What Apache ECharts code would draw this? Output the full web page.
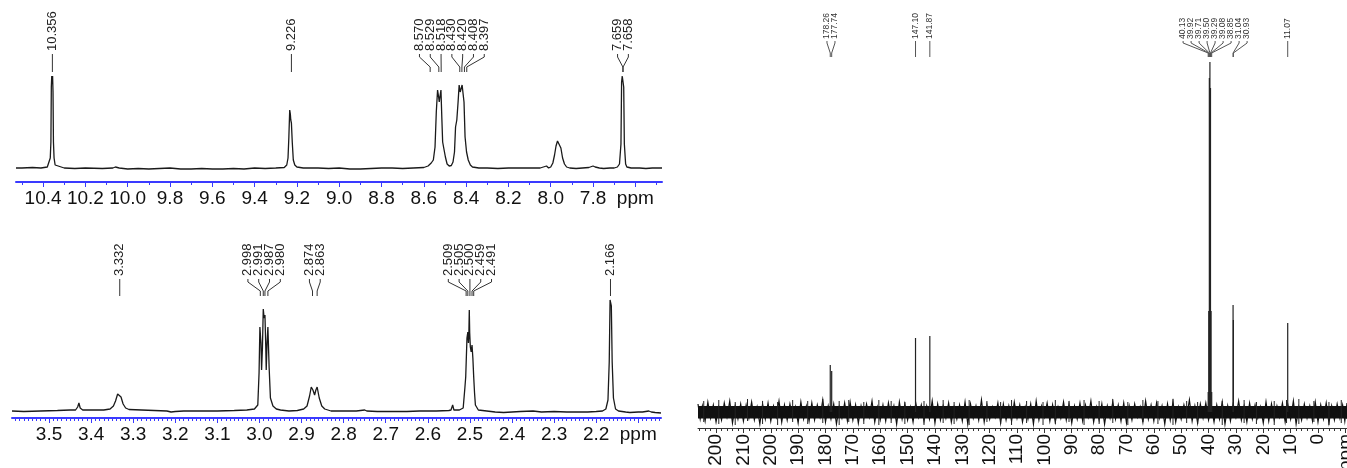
<!DOCTYPE html>
<html><head><meta charset="utf-8">
<script src="https://cdn.jsdelivr.net/npm/echarts@6/dist/echarts.min.js"></script>
<style>html,body{margin:0;padding:0;background:#fff}#c{width:1347px;height:468px}</style>
</head><body><div id="c"></div>
<script>
// ===================== DATA =====================
// 1H spectrum, aromatic region (top-left): [ppm, intensity]
const h1TopTrace = [[10.528,14],[10.50,14],[10.45,14.5],[10.41,14],[10.38,15],[10.372,17],[10.366,24],[10.363,40],[10.361,95],[10.359,106],[10.357,100],[10.355,106],[10.353,90],[10.351,40],[10.348,24],[10.343,17],[10.335,15],[10.30,14],[10.25,13.5],[10.20,14],[10.12,13.5],[10.07,14],[10.058,15],[10.054,17],[10.05,15],[10.04,14],[10.0,13],[9.95,13.5],[9.90,13],[9.85,13.5],[9.80,14],[9.75,13],[9.70,13],[9.65,13.5],[9.60,13],[9.55,13],[9.50,13.5],[9.45,13],[9.40,14],[9.35,13.5],[9.30,14],[9.26,14.5],[9.248,17],[9.242,24],[9.238,45],[9.234,72],[9.231,68],[9.229,62],[9.226,59],[9.222,40],[9.217,22],[9.21,17],[9.20,15],[9.17,14],[9.10,14],[9.05,13.5],[9.0,14],[8.95,13],[8.90,13],[8.85,13.5],[8.80,14],[8.75,14],[8.70,13.5],[8.65,14],[8.60,14.5],[8.58,16],[8.565,19],[8.555,22],[8.547,35],[8.541,70],[8.535,92],[8.53,85],[8.527,80],[8.524,85],[8.519,92],[8.515,65],[8.511,40],[8.505,33],[8.498,25],[8.49,18],[8.48,16],[8.47,16.5],[8.462,20],[8.455,30],[8.45,55],[8.444,62],[8.438,80],[8.433,97],[8.428,90],[8.424,93],[8.419,97],[8.414,96],[8.41,80],[8.405,45],[8.398,30],[8.39,22],[8.38,17],[8.37,15],[8.34,14],[8.30,14],[8.25,13.5],[8.20,14],[8.15,14],[8.10,14],[8.05,14],[8.02,16],[8.01,14],[8.0,15],[7.99,19],[7.982,27],[7.975,36],[7.968,41],[7.96,40],[7.952,34],[7.944,24],[7.935,18],[7.925,15],[7.91,14],[7.88,13.5],[7.85,14],[7.82,14.5],[7.80,16],[7.79,15],[7.77,14],[7.75,13.5],[7.72,14],[7.70,14],[7.685,15],[7.675,18],[7.668,38],[7.665,100],[7.662,106],[7.658,106],[7.655,95],[7.652,38],[7.646,18],[7.64,15],[7.62,14],[7.58,14],[7.55,13.5],[7.52,14],[7.474,14]];
const h1TopTickValues = [10.4,10.2,10.0,9.8,9.6,9.4,9.2,9.0,8.8,8.6,8.4,8.2,8.0,7.8,7.6];
const h1TopTickLabels = ['10.4','10.2','10.0','9.8','9.6','9.4','9.2','9.0','8.8','8.6','8.4','8.2','8.0','7.8','ppm'];
const h1TopPeakLabels = [['10.356'],['9.226'],['8.570','8.529','8.518','8.430','8.420','8.408','8.397'],['7.659','7.658']];
const h1TopPeakTargets = [[10.356],[9.226],[8.570,8.529,8.518,8.430,8.420,8.408,8.397],[7.659,7.658]];

// 1H spectrum, aliphatic region (bottom-left)
const h1BottomTrace = [[3.588,7],[3.56,6.5],[3.52,7],[3.48,7.5],[3.45,8],[3.437,8],[3.432,11],[3.429,15],[3.426,10],[3.42,8],[3.40,8],[3.37,8],[3.355,9],[3.347,12],[3.342,17],[3.337,24],[3.334,25],[3.329,21],[3.324,14],[3.318,10],[3.31,8.5],[3.28,8],[3.25,7.5],[3.22,7],[3.21,6],[3.20,6.5],[3.18,7],[3.15,7],[3.10,7],[3.06,7.5],[3.03,8],[3.012,9],[3.004,13],[3.001,45],[2.999,91],[2.9965,75],[2.995,48],[2.993,70],[2.991,109],[2.989,100],[2.987,103],[2.985,70],[2.984,48],[2.982,75],[2.980,91],[2.977,50],[2.974,20],[2.968,12],[2.96,9],[2.95,8],[2.93,7],[2.91,7.5],[2.895,9],[2.887,12],[2.881,22],[2.877,31],[2.873,28],[2.869,23],[2.866,28],[2.863,31],[2.858,20],[2.852,12],[2.845,9],[2.83,7],[2.80,7],[2.77,7],[2.75,8],[2.745,7],[2.72,6.5],[2.68,6.5],[2.65,6.5],[2.62,7],[2.58,7],[2.55,7.5],[2.545,8],[2.541,13],[2.538,8],[2.525,8],[2.516,10],[2.512,30],[2.510,41],[2.507,80],[2.505,86],[2.5035,75],[2.5025,85],[2.5015,108],[2.5005,85],[2.499,71],[2.497,66],[2.495,73],[2.493,60],[2.491,41],[2.489,25],[2.487,13],[2.48,8],[2.46,7],[2.44,6],[2.42,5.5],[2.40,6],[2.38,6.5],[2.35,7],[2.33,6],[2.30,6.5],[2.27,6],[2.25,6],[2.22,6],[2.20,6.5],[2.185,7],[2.177,9],[2.172,18],[2.169,56],[2.167,118],[2.1655,120],[2.164,112],[2.162,56],[2.159,20],[2.154,9],[2.147,7],[2.13,6],[2.12,5.5],[2.10,6],[2.09,6],[2.075,7],[2.072,9],[2.069,6],[2.06,5.5],[2.046,5]];
const h1BottomTickValues = [3.5,3.4,3.3,3.2,3.1,3.0,2.9,2.8,2.7,2.6,2.5,2.4,2.3,2.2,2.1];
const h1BottomTickLabels = ['3.5','3.4','3.3','3.2','3.1','3.0','2.9','2.8','2.7','2.6','2.5','2.4','2.3','2.2','ppm'];
const h1BottomPeakLabels = [['3.332'],['2.998','2.991','2.987','2.980'],['2.874','2.863'],['2.509','2.505','2.500','2.459','2.491'],['2.166']];
const h1BottomPeakTargets = [[3.332],[2.998,2.991,2.987,2.980],[2.874,2.863],[2.509,2.505,2.500,2.495,2.491],[2.166]];

// 13C spectrum (right): peaks [ppm, height]
const c13Peaks = [[178.26,63],[177.74,57],[147.10,90],[141.87,92],[40.13,36],[39.92,117],[39.71,350],[39.50,366],[39.29,340],[39.08,117],[38.85,36],[31.04,123],[30.93,108],[11.07,105]];
// noise: solid core [lower, upper] and the ragged trace's upper / lower swings
const c13NoiseCore = [9.5, 22];
const c13NoisePpm = [226.6,225,223,221,219,217,215,213,211,209,207,205,203,201,199,197,195,193,191,189,187,185,183,181,179,177,175,173,171,169,167,165,163,161,159,157,155,153,151,149,147,145,143,141,139,137,135,133,131,129,127,125,123,121,119,117,115,113,111,109,107,105,103,101,99,97,95,93,91,89,87,85,83,81,79,77,75,73,71,69,67,65,63,61,59,57,55,53,51,49,47,45,43,41,39,37,35,33,31,29,27,25,23,21,19,17,15,13,11,9,7,5,3,1,-1,-3,-5,-7,-9,-10.6];
const c13NoiseHi = [24,22,26,23,21,25,27,22,24,23,26,21,24,25,22,27,23,24,21,26,22,25,23,28,22,24,21,25,26,23,22,24,27,21,23,25,22,26,24,21,25,23,22,27,24,22,25,21,23,26,24,22,28,23,21,25,24,22,26,23,21,24,27,22,25,23,21,26,24,22,25,23,27,21,24,22,26,23,25,22,24,21,27,23,25,22,24,26,21,23,28,22,24,25,21,23,26,22,24,27,22,25,23,21,26,24,22,25,23,27,21,24,22,26,23,25,22,24,23,25];
const c13NoiseLo = [9,7,10,6,8,11,5,9,7,10,8,4,9,7,11,6,8,10,5,9,7,8,11,6,9,4,10,7,8,5,9,11,6,8,7,10,4,9,8,6,11,7,9,5,8,10,6,9,7,4,10,8,6,9,11,5,8,7,10,6,9,4,8,11,7,6,10,8,5,9,7,11,6,8,4,10,9,7,5,8,11,6,9,7,10,4,8,6,9,11,7,5,10,8,6,9,4,7,11,8,6,9,10,5,7,8,11,6,9,4,8,10,7,6,9,5,8,10,7,9];
// taller noise spikes [ppm, top, bottom]
const c13NoiseSpikes = [[224.5,27,6],[219,28,4],[213,26,3],[208.5,29,7],[203,27,4],[197.5,26,3],[192,28,6],[186.5,27,4],[181,29,5],[175,27,3],[171.5,28,6],[166,26,4],[160.5,28,3],[156,27,5],[151,26,4],[144,27,3],[137,28,5],[133,26,4],[127.5,28,3],[121,27,6],[116,26,4],[112,28,3],[106.5,27,5],[100.5,26,3],[96,28,4],[91,27,6],[85.5,28,3],[80,27,4],[75,29,5],[69.5,26,3],[64,28,6],[58.5,27,4],[53,29,3],[48,27,5],[44,26,4],[35,27,3],[27,28,5],[22.5,26,4],[16,27,3],[11.5,28,5],[7,29,4],[1.5,27,6],[-4,26,3],[-8.5,28,5]];
const c13TickValues = [220,210,200,190,180,170,160,150,140,130,120,110,100,90,80,70,60,50,40,30,20,10,0,-10];
const c13TickLabels = ['200','210','200','190','180','170','160','150','140','130','120','110','100','90','80','70','60','50','40','30','20','10','0','ppm'];
const c13PeakLabels = [['178.26','177.74'],['147.10'],['141.87'],['40.13','39.92','39.71','39.50','39.29','39.08','38.85','31.04','30.93'],['11.07']];
const c13PeakTargets = [[178.26,177.74],[147.10],[141.87],[40.13,39.92,39.71,39.50,39.29,39.08,38.85,31.04,30.93],[11.07]];

// ===================== RENDER =====================
const BLUE = '#3a3aff';
const FONT = "'Liberation Sans', Arial, sans-serif";

function lookup(values, labels) {
  return function (v) {
    for (let i = 0; i < values.length; i++) if (Math.abs(values[i] - v) < 1e-6) return labels[i];
    return '';
  };
}
function ticksBetween(min, max, step) {
  const out = [];
  const s = Math.ceil(min / step - 1e-9);
  for (let k = s; k * step <= max + 1e-9; k++) out.push(+(k * step).toFixed(4));
  return out;
}

function mainX(grid, min, max, vals, labs, color, rotate, labelMargin) {
  return {
    gridIndex: grid, type: 'value', inverse: true, min: min, max: max, position: 'bottom',
    axisLine: { show: true, onZero: false, lineStyle: { color: color, width: color === BLUE ? 2 : 1 } },
    axisTick: { show: true, customValues: vals, length: 5, lineStyle: { color: color, width: 1 } },
    axisLabel: { show: true, customValues: vals, formatter: lookup(vals, labs), rotate: rotate,
      fontSize: 19, fontFamily: FONT, color: '#111', margin: labelMargin, hideOverlap: false },
    splitLine: { show: false }
  };
}
function minorX(grid, min, max, vals, color) {
  return {
    gridIndex: grid, type: 'value', inverse: true, min: min, max: max, position: 'bottom',
    axisLine: { show: false, onZero: false },
    axisTick: { show: true, customValues: vals, length: 3, lineStyle: { color: color, width: 1 } },
    axisLabel: { show: false }, splitLine: { show: false }
  };
}

function labelRenderer(labels, targets, cfg) {
  return function (params, api) {
    if (params.dataIndex !== 0) return null;
    const top = params.coordSys.y;
    const groups = labels.map(function (g, gi) {
      const px = targets[gi].map(function (v) { return api.coord([v, 0])[0]; });
      const mean = px.reduce(function (a, b) { return a + b; }, 0) / px.length;
      return { g: g, px: px, start: mean - (g.length - 1) / 2 * cfg.spacing };
    });
    groups.sort(function (a, b) { return a.start - b.start; });
    let prevEnd = -1e9;
    groups.forEach(function (gr) {
      if (gr.start < prevEnd + cfg.spacing) gr.start = prevEnd + cfg.spacing;
      prevEnd = gr.start + (gr.g.length - 1) * cfg.spacing;
    });
    const children = [];
    groups.forEach(function (gr) {
      gr.g.forEach(function (t, i) {
        const lx = gr.start + i * cfg.spacing;
        const tx = gr.px[i];
        children.push({ type: 'text', x: lx, y: top + cfg.textBottom, rotation: Math.PI / 2,
          style: { text: t, x: 0, y: 0, fill: cfg.color, font: cfg.font, align: 'left', verticalAlign: 'middle' } });
        children.push({ type: 'polyline',
          shape: { points: [[lx, top + cfg.lineTop], [lx, top + cfg.bendTop], [tx, top + cfg.bendBottom], [tx, top + cfg.lineBottom]] },
          style: { stroke: cfg.lineColor, lineWidth: 1, fill: null } });
      });
    });
    return { type: 'group', children: children };
  };
}

const TOP = { min: 7.474, max: 10.528 };
const BOT = { min: 2.046, max: 3.588 };
const C13 = { min: -10.6, max: 226.6 };

const option = {
  animation: false,
  backgroundColor: '#fff',
  grid: [
    { left: 16, top: 10, width: 646, height: 172, outerBoundsMode: 'none', containLabel: false },
    { left: 12, top: 240, width: 649, height: 178, outerBoundsMode: 'none', containLabel: false },
    { left: 698, top: 10, width: 649, height: 418, outerBoundsMode: 'none', containLabel: false }
  ],
  xAxis: [
    mainX(0, TOP.min, TOP.max, h1TopTickValues, h1TopTickLabels, BLUE, 0, 7),
    minorX(0, TOP.min, TOP.max, ticksBetween(TOP.min, TOP.max, 0.1), BLUE),
    mainX(1, BOT.min, BOT.max, h1BottomTickValues, h1BottomTickLabels, BLUE, 0, 7),
    minorX(1, BOT.min, BOT.max, ticksBetween(BOT.min, BOT.max, 0.01), BLUE),
    mainX(2, C13.min, C13.max, c13TickValues, c13TickLabels, '#333', 90, 6),
    minorX(2, C13.min, C13.max, ticksBetween(C13.min, C13.max, 2), '#333')
  ],
  yAxis: [
    { gridIndex: 0, type: 'value', min: 0, max: 172, show: false },
    { gridIndex: 1, type: 'value', min: 0, max: 178, show: false },
    { gridIndex: 2, type: 'value', min: 0, max: 418, show: false }
  ],
  series: [
    { type: 'line', xAxisIndex: 0, yAxisIndex: 0, data: h1TopTrace, showSymbol: false, silent: true,
      lineStyle: { color: '#1a1a1a', width: 1.3 } },
    { type: 'line', xAxisIndex: 2, yAxisIndex: 1, data: h1BottomTrace, showSymbol: false, silent: true,
      lineStyle: { color: '#1a1a1a', width: 1.3 } },
    { type: 'custom', xAxisIndex: 0, yAxisIndex: 0, data: [[9, 0]], silent: true,
      renderItem: labelRenderer(h1TopPeakLabels, h1TopPeakTargets,
        { spacing: 10.8, textBottom: 41, lineTop: 44, bendTop: 47, bendBottom: 57, lineBottom: 62,
          color: '#222', lineColor: '#333', font: "13px 'Liberation Sans', Arial, sans-serif" }) },
    { type: 'custom', xAxisIndex: 2, yAxisIndex: 1, data: [[3, 0]], silent: true,
      renderItem: labelRenderer(h1BottomPeakLabels, h1BottomPeakTargets,
        { spacing: 10.8, textBottom: 36, lineTop: 39, bendTop: 42, bendBottom: 51, lineBottom: 56,
          color: '#222', lineColor: '#333', font: "13px 'Liberation Sans', Arial, sans-serif" }) },
    // 13C noise: solid core + ragged zig-zag trace + occasional spikes
    { type: 'custom', xAxisIndex: 4, yAxisIndex: 2, data: [[100, 0]], silent: true,
      renderItem: function (params, api) {
        if (params.dataIndex !== 0) return null;
        const n = c13NoisePpm.length;
        const a0 = api.coord([c13NoisePpm[0], c13NoiseCore[1]]);
        const b0 = api.coord([c13NoisePpm[n - 1], c13NoiseCore[0]]);
        const children = [{ type: 'rect', shape: { x: a0[0], y: a0[1], width: b0[0] - a0[0], height: b0[1] - a0[1] },
          style: { fill: '#111' } }];
        const zig = [];
        for (let i = 0; i < n; i++) {
          const nextP = i < n - 1 ? c13NoisePpm[i + 1] : c13NoisePpm[i];
          zig.push(api.coord([c13NoisePpm[i], c13NoiseHi[i]]));
          zig.push(api.coord([(c13NoisePpm[i] + nextP) / 2, c13NoiseLo[i]]));
        }
        children.push({ type: 'polyline', shape: { points: zig }, style: { stroke: '#111', lineWidth: 1.2, fill: null } });
        c13NoiseSpikes.forEach(function (s) {
          const a = api.coord([s[0], s[1]]), b = api.coord([s[0], s[2]]);
          children.push({ type: 'line', shape: { x1: a[0], y1: a[1], x2: b[0], y2: b[1] }, style: { stroke: '#222', lineWidth: 1 } });
        });
        return { type: 'group', children: children };
      } },
    // 13C peaks
    { type: 'custom', xAxisIndex: 4, yAxisIndex: 2, data: c13Peaks, silent: true,
      renderItem: function (params, api) {
        const a = api.coord([api.value(0), 16]), b = api.coord([api.value(0), api.value(1)]);
        return { type: 'line', shape: { x1: a[0], y1: a[1], x2: b[0], y2: b[1] }, style: { stroke: '#222', lineWidth: 1.2 } };
      } },
    { type: 'custom', xAxisIndex: 4, yAxisIndex: 2, data: [[100, 0]], silent: true,
      renderItem: labelRenderer(c13PeakLabels, c13PeakTargets,
        { spacing: 8, textBottom: 29, lineTop: 31, bendTop: 33, bendBottom: 43, lineBottom: 47,
          color: '#333', lineColor: '#555', font: "8.5px 'Liberation Sans', Arial, sans-serif" }) }
  ]
};

const chart = echarts.init(document.getElementById('c'), null, { renderer: 'canvas' });
chart.setOption(option);
</script>
</body></html>
